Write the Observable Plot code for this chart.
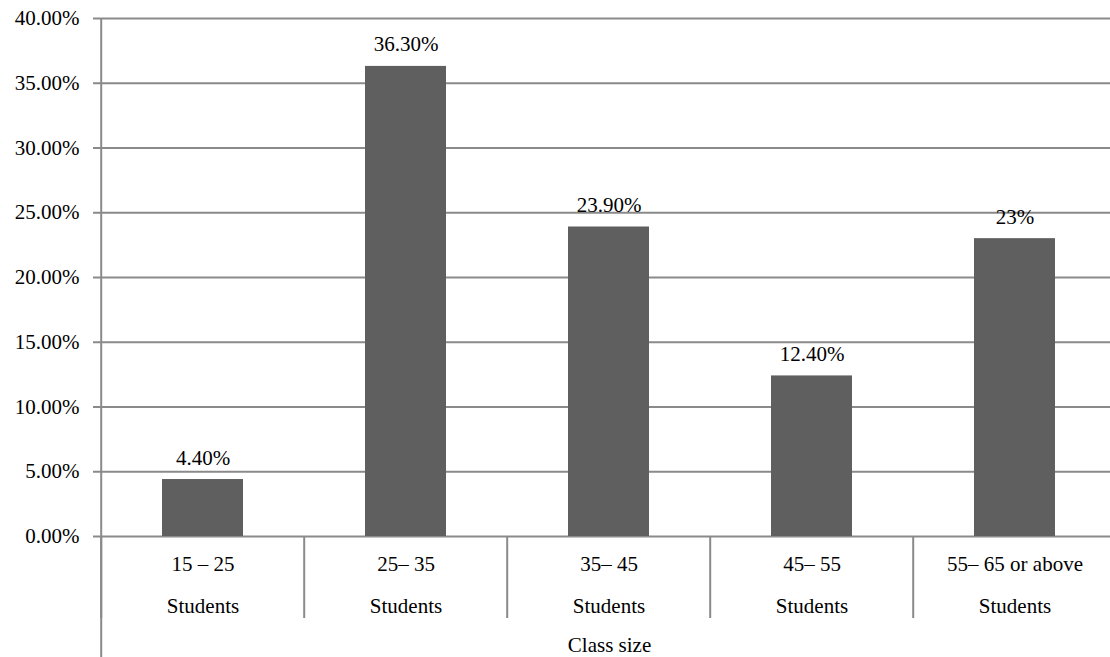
<!DOCTYPE html>
<html>
<head>
<meta charset="utf-8">
<script src="https://cdn.jsdelivr.net/npm/d3@7"></script>
<script src="https://cdn.jsdelivr.net/npm/@observablehq/plot@0.6"></script>
<style>
  @font-face { font-family: "ChartSerif"; src: local("Liberation Serif"), local("LiberationSerif"), local("Liberation Serif Regular"), local("Tinos"), local("Times New Roman"); }
  html, body { margin: 0; padding: 0; background: #fff; font-family: "Liberation Serif", serif; }
  #chart { font-family: "Liberation Serif", serif; }
  #chart svg { display: block; }
  #chart svg text, #chart svg tspan { font-family: "Liberation Serif", "ChartSerif", "Times New Roman", Tinos, serif !important; }
</style>
</head>
<body>
<div id="chart"></div>
<script>
const ranges = ["15 – 25", "25– 35", "35– 45", "45– 55", "55– 65 or above"];
const unit = "Students";
const shares = [0.044, 0.363, 0.239, 0.124, 0.23];
const shareLabels = ["4.40%", "36.30%", "23.90%", "12.40%", "23%"];
const yTicks = [0, 0.05, 0.10, 0.15, 0.20, 0.25, 0.30, 0.35, 0.40];
const axisTitle = "Class size";

const data = ranges.map((r, i) => ({cat: r, value: shares[i], label: shareLabels[i]}));

const W = 1110, H = 657;
const mL = 100, mT = 18, mB = 121;
const step = (1118 - mL) / ranges.length;
const grid = "#8a8a8a";
const fs = 21;
const ff = "Liberation Serif, serif";

const chart = Plot.plot({
  width: W,
  height: H,
  marginLeft: mL,
  marginRight: 0,
  marginTop: mT,
  marginBottom: mB,
  style: {fontSize: fs + "px", color: "#000", background: "#fff", overflow: "visible"},
  x: {domain: ranges, range: [mL, mL + step * ranges.length], paddingInner: 0.6, paddingOuter: 0.3},
  y: {domain: [0, 0.40]},
  marks: [
    Plot.ruleY(yTicks, {stroke: grid, strokeWidth: 2}),
    Plot.barY(data, {x: "cat", y: "value", fill: "#5f5f5f"}),
    Plot.text(data, {x: "cat", y: "value", text: "label", lineAnchor: "bottom", dy: -15, fill: "#000", fontSize: fs, fontFamily: ff}),
    Plot.axisY({ticks: yTicks, tickFormat: d3.format(".2%"), tickSize: 7, tickPadding: 14, stroke: grid, strokeWidth: 2, fontSize: fs, fontFamily: ff, color: "#000", label: null}),
    Plot.axisX({tickSize: 0, tickPadding: 5, tickFormat: d => d + "\n" + unit, lineHeight: 2.0, fontSize: fs, fontFamily: ff, label: null}),
    // category separators below the axis
    Plot.ruleX(ranges, {x: d => d, dx: -step / 2, stroke: grid, strokeWidth: 2, insetTop: H - mB - mT, insetBottom: -82}),
    // left axis line spanning to the bottom
    Plot.ruleX(ranges.slice(0, 1), {x: d => d, dx: -step / 2, stroke: grid, strokeWidth: 2, insetBottom: -mB}),
    Plot.text([axisTitle], {frameAnchor: "bottom", dx: 4, dy: 115, fontSize: fs, fontFamily: ff, fill: "#000", lineAnchor: "bottom"})
  ]
});
chart.setAttribute("font-family", ff);
chart.querySelectorAll("g[font-family]").forEach(el => el.setAttribute("font-family", ff));
document.getElementById("chart").appendChild(chart);
</script>
</body>
</html>
